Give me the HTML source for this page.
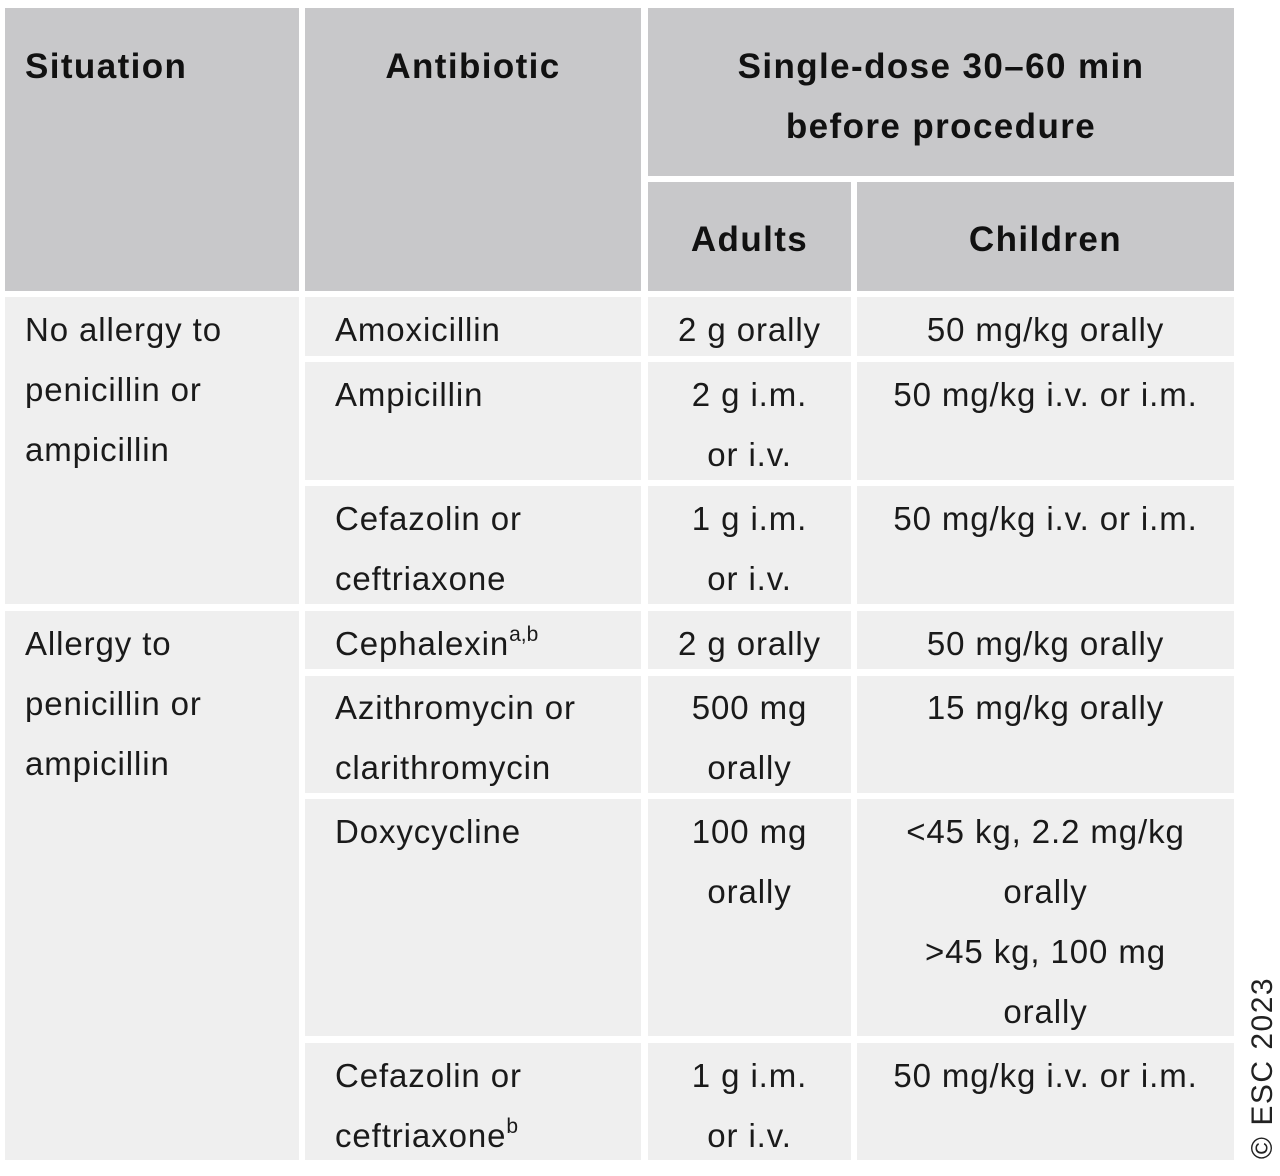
<!DOCTYPE html>
<html><head><meta charset="utf-8"><style>
body{margin:0;width:1280px;height:1176px;background:#fff;position:relative;font-family:"Liberation Sans",sans-serif;color:#1a1a1a;overflow:hidden}
.c{position:absolute;box-sizing:border-box;font-size:33px;line-height:60px;letter-spacing:0.9px;white-space:nowrap}
.h{background:#c8c8ca;font-weight:bold;font-size:35px;color:#111;letter-spacing:1.4px}
.b{background:#efefef}
.ctr{text-align:center}
sup{font-size:21px;line-height:0;vertical-align:14px;letter-spacing:0}
</style></head><body>
<div class="c h" style="left:5px;top:8px;width:294px;height:283px;padding:29px 0 0 20px">Situation</div>
<div class="c h ctr" style="left:305px;top:8px;width:336px;height:283px;padding-top:29px">Antibiotic</div>
<div class="c h ctr" style="left:648px;top:8px;width:586px;height:168px;padding-top:29px">Single-dose 30–60 min<br>before procedure</div>
<div class="c h ctr" style="left:648px;top:182px;width:203px;height:109px;padding-top:28px">Adults</div>
<div class="c h ctr" style="left:857px;top:182px;width:377px;height:109px;padding-top:28px">Children</div>

<div class="c b" style="left:5px;top:297px;width:294px;height:307px;padding:3px 0 0 20px">No allergy to<br>penicillin or<br>ampicillin</div>
<div class="c b" style="left:5px;top:611px;width:294px;height:549px;padding:3px 0 0 20px">Allergy to<br>penicillin or<br>ampicillin</div>

<div class="c b" style="left:305px;top:297px;width:336px;height:59px;padding:3px 0 0 30px">Amoxicillin</div>
<div class="c b ctr" style="left:648px;top:297px;width:203px;height:59px;padding-top:3px">2 g orally</div>
<div class="c b ctr" style="left:857px;top:297px;width:377px;height:59px;padding-top:3px">50 mg/kg orally</div>

<div class="c b" style="left:305px;top:362px;width:336px;height:118px;padding:3px 0 0 30px">Ampicillin</div>
<div class="c b ctr" style="left:648px;top:362px;width:203px;height:118px;padding-top:3px">2 g i.m.<br>or i.v.</div>
<div class="c b ctr" style="left:857px;top:362px;width:377px;height:118px;padding-top:3px">50 mg/kg i.v. or i.m.</div>

<div class="c b" style="left:305px;top:486px;width:336px;height:118px;padding:3px 0 0 30px">Cefazolin or<br>ceftriaxone</div>
<div class="c b ctr" style="left:648px;top:486px;width:203px;height:118px;padding-top:3px">1 g i.m.<br>or i.v.</div>
<div class="c b ctr" style="left:857px;top:486px;width:377px;height:118px;padding-top:3px">50 mg/kg i.v. or i.m.</div>

<div class="c b" style="left:305px;top:611px;width:336px;height:58px;padding:3px 0 0 30px">Cephalexin<sup>a,b</sup></div>
<div class="c b ctr" style="left:648px;top:611px;width:203px;height:58px;padding-top:3px">2 g orally</div>
<div class="c b ctr" style="left:857px;top:611px;width:377px;height:58px;padding-top:3px">50 mg/kg orally</div>

<div class="c b" style="left:305px;top:676px;width:336px;height:117px;padding:2px 0 0 30px">Azithromycin or<br>clarithromycin</div>
<div class="c b ctr" style="left:648px;top:676px;width:203px;height:117px;padding-top:2px">500 mg<br>orally</div>
<div class="c b ctr" style="left:857px;top:676px;width:377px;height:117px;padding-top:2px">15 mg/kg orally</div>

<div class="c b" style="left:305px;top:799px;width:336px;height:237px;padding:3px 0 0 30px">Doxycycline</div>
<div class="c b ctr" style="left:648px;top:799px;width:203px;height:237px;padding-top:3px">100 mg<br>orally</div>
<div class="c b ctr" style="left:857px;top:799px;width:377px;height:237px;padding-top:3px">&lt;45 kg, 2.2 mg/kg<br>orally<br>&gt;45 kg, 100 mg<br>orally</div>

<div class="c b" style="left:305px;top:1043px;width:336px;height:117px;padding:3px 0 0 30px">Cefazolin or<br>ceftriaxone<sup>b</sup></div>
<div class="c b ctr" style="left:648px;top:1043px;width:203px;height:117px;padding-top:3px">1 g i.m.<br>or i.v.</div>
<div class="c b ctr" style="left:857px;top:1043px;width:377px;height:117px;padding-top:3px">50 mg/kg i.v. or i.m.</div>

<div style="position:absolute;left:1263px;top:1068px;transform:translate(-50%,-50%) rotate(-90deg);font-size:30px;white-space:nowrap;color:#222;letter-spacing:1.5px">© ESC 2023</div>
</body></html>
